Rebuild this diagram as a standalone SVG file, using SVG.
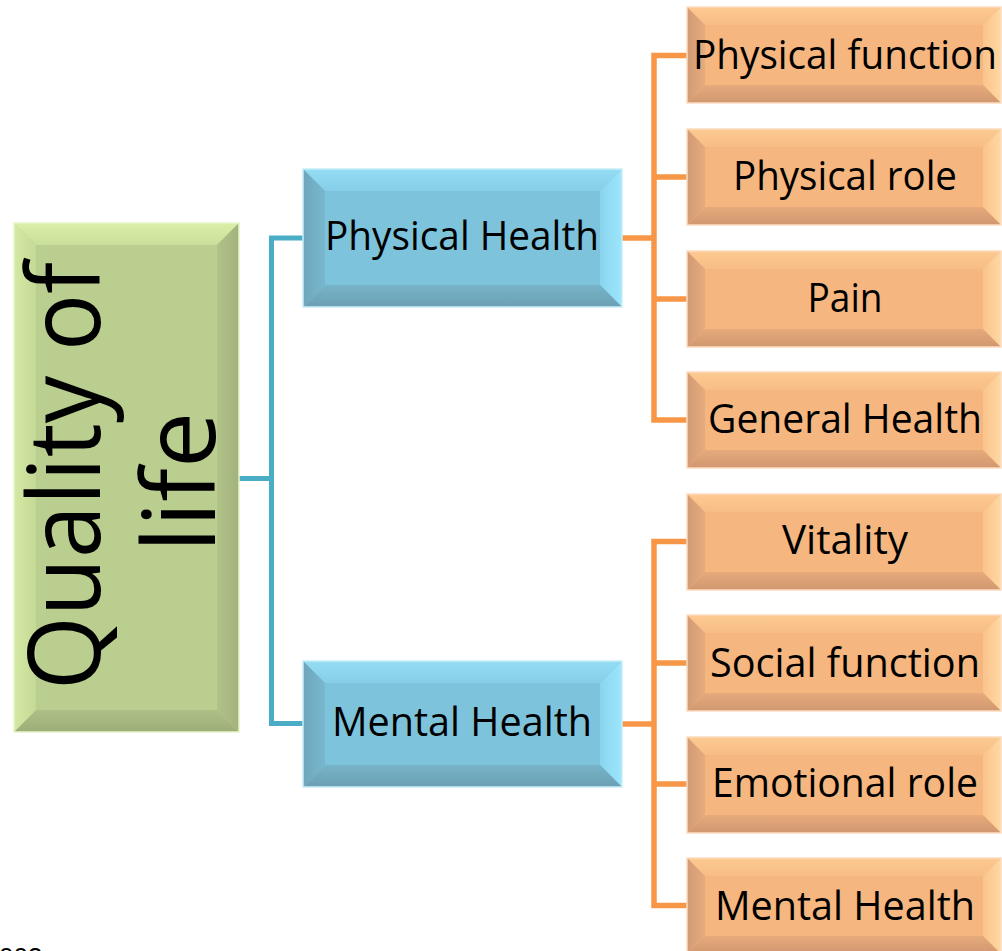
<svg xmlns="http://www.w3.org/2000/svg" xmlns:xlink="http://www.w3.org/1999/xlink" width="1002" height="951" viewBox="0 0 1002 951">
  <style>
    .lbl { font-family: "Open Sans", "Liberation Sans", sans-serif; font-size: 40px; fill: #000; text-anchor: middle; }
    .big { font-family: "Open Sans", "Liberation Sans", sans-serif; font-size: 100px; fill: #000; text-anchor: middle; }
    .note { font-family: "Liberation Sans", sans-serif; font-size: 26px; fill: #000; }
    .link-blue { fill: none; stroke: #4BACC6; stroke-width: 5; }
    .link-orange { fill: none; stroke: #F79646; stroke-width: 5.5; }
    .o-face { fill: #F6B67F; }
    .o-top { fill: url(#oTop); }
    .o-right { fill: url(#oRight); }
    .o-bottom { fill: url(#oBottom); }
    .o-left { fill: url(#oLeft); }
    .o-edge { fill: none; stroke: #FBDCC0; stroke-width: 1.5; }
    .b-face { fill: #7EC3DC; }
    .b-top { fill: url(#bTop); }
    .b-right { fill: url(#bRight); }
    .b-bottom { fill: url(#bBottom); }
    .b-left { fill: url(#bLeft); }
    .b-edge { fill: none; stroke: #C8EEF8; stroke-width: 1.5; }
    .g-face { fill: #BACE8F; }
    .g-top { fill: url(#gTop); }
    .g-left { fill: url(#gLeft); }
    .g-right { fill: url(#gRight); }
    .g-bottom { fill: url(#gBottom); }
    .g-edge { fill: none; stroke: #E6F6C8; stroke-width: 1.5; }
  </style>
  <defs>
    <!-- bevel shading: each strip fades from its outer edge into the face colour -->
    <linearGradient id="oTop" x1="0" y1="0" x2="0" y2="1"><stop offset="0" stop-color="#FCCA92"/><stop offset="1" stop-color="#F8BD86"/></linearGradient>
    <linearGradient id="oRight" x1="1" y1="0" x2="0" y2="0"><stop offset="0" stop-color="#FFD8A2"/><stop offset="1" stop-color="#FAC48C"/></linearGradient>
    <linearGradient id="oBottom" x1="0" y1="1" x2="0" y2="0"><stop offset="0" stop-color="#D09870"/><stop offset="1" stop-color="#E6AA7B"/></linearGradient>
    <linearGradient id="oLeft" x1="0" y1="0" x2="1" y2="0"><stop offset="0" stop-color="#D29B75"/><stop offset="1" stop-color="#E6AB7D"/></linearGradient>

    <linearGradient id="bTop" x1="0" y1="0" x2="0" y2="1"><stop offset="0" stop-color="#94DDF5"/><stop offset="1" stop-color="#86CEE7"/></linearGradient>
    <linearGradient id="bRight" x1="1" y1="0" x2="0" y2="0"><stop offset="0" stop-color="#9DE6FD"/><stop offset="1" stop-color="#8AD5EE"/></linearGradient>
    <linearGradient id="bBottom" x1="0" y1="1" x2="0" y2="0"><stop offset="0" stop-color="#6C9FB3"/><stop offset="1" stop-color="#76B3C9"/></linearGradient>
    <linearGradient id="bLeft" x1="0" y1="0" x2="1" y2="0"><stop offset="0" stop-color="#6EA6BB"/><stop offset="1" stop-color="#78B7CE"/></linearGradient>

    <linearGradient id="gTop" x1="0" y1="0" x2="0" y2="1"><stop offset="0" stop-color="#DAF0A8"/><stop offset="1" stop-color="#C8DE9A"/></linearGradient>
    <linearGradient id="gLeft" x1="0" y1="0" x2="1" y2="0"><stop offset="0" stop-color="#D4EAA3"/><stop offset="1" stop-color="#C3D996"/></linearGradient>
    <linearGradient id="gRight" x1="1" y1="0" x2="0" y2="0"><stop offset="0" stop-color="#A2B27D"/><stop offset="1" stop-color="#B1C388"/></linearGradient>
    <linearGradient id="gBottom" x1="0" y1="1" x2="0" y2="0"><stop offset="0" stop-color="#9DAD79"/><stop offset="1" stop-color="#AEC086"/></linearGradient>

    <!-- bevelled orange tile, 314 x 96 -->
    <g id="orangeTile">
      <rect class="o-face" x="0" y="0" width="314" height="96"/>
      <polygon class="o-top" points="0,0 314,0 296,18 18,18"/>
      <polygon class="o-right" points="314,0 314,96 296,78 296,18"/>
      <polygon class="o-bottom" points="0,96 314,96 296,78 18,78"/>
      <polygon class="o-left" points="0,0 0,96 18,78 18,18"/>
      <rect class="o-edge" x="0" y="0" width="314" height="96"/>
    </g>
  </defs>

  <rect width="1002" height="951" fill="#FFFFFF"/>

  <!-- connectors -->
  <g id="connectors">
    <path class="link-blue" d="M239,478.5 H271.5"/>
    <path class="link-blue" d="M303,238 H271.5 V723.5 H303"/>
    <path class="link-orange" d="M622,238 H654"/>
    <path class="link-orange" d="M622,724 H654"/>
    <path class="link-orange" d="M687,55.5 H654 V420 H687"/>
    <path class="link-orange" d="M654,177 H687"/>
    <path class="link-orange" d="M654,299 H687"/>
    <path class="link-orange" d="M687,541.5 H654 V905.5 H687"/>
    <path class="link-orange" d="M654,663 H687"/>
    <path class="link-orange" d="M654,784 H687"/>
  </g>

  <!-- root -->
  <g id="quality-of-life">
    <rect class="g-face" x="14" y="223" width="225" height="509"/>
    <polygon class="g-top" points="14,223 239,223 217,245 36,245"/>
    <polygon class="g-right" points="239,223 239,732 217,710 217,245"/>
    <polygon class="g-bottom" points="14,732 239,732 217,710 36,710"/>
    <polygon class="g-left" points="14,223 14,732 36,710 36,245"/>
    <rect class="g-edge" x="14" y="223" width="225" height="509"/>
    <text class="big" transform="translate(100,476) rotate(-90)" textLength="428" lengthAdjust="spacingAndGlyphs">Quality of</text>
    <text class="big" transform="translate(215,482) rotate(-90)">life</text>
  </g>

  <!-- second level -->
  <g id="physical-health">
    <rect class="b-face" x="303" y="169" width="319" height="138"/>
    <polygon class="b-top" points="303,169 622,169 600,191 325,191"/>
    <polygon class="b-right" points="622,169 622,307 600,285 600,191"/>
    <polygon class="b-bottom" points="303,307 622,307 600,285 325,285"/>
    <polygon class="b-left" points="303,169 303,307 325,285 325,191"/>
    <rect class="b-edge" x="303" y="169" width="319" height="138"/>
    <text class="lbl" x="462" y="250" textLength="274" lengthAdjust="spacingAndGlyphs">Physical Health</text>
  </g>
  <g id="mental-health">
    <rect class="b-face" x="303" y="661" width="319" height="126"/>
    <polygon class="b-top" points="303,661 622,661 600,683 325,683"/>
    <polygon class="b-right" points="622,661 622,787 600,765 600,683"/>
    <polygon class="b-bottom" points="303,787 622,787 600,765 325,765"/>
    <polygon class="b-left" points="303,661 303,787 325,765 325,683"/>
    <rect class="b-edge" x="303" y="661" width="319" height="126"/>
    <text class="lbl" x="462" y="736" textLength="260" lengthAdjust="spacingAndGlyphs">Mental Health</text>
  </g>

  <!-- leaves -->
  <g id="physical-function">
    <use xlink:href="#orangeTile" x="687" y="7"/>
    <text class="lbl" x="845" y="69" textLength="304" lengthAdjust="spacingAndGlyphs">Physical function</text>
  </g>
  <g id="physical-role">
    <use xlink:href="#orangeTile" x="687" y="129"/>
    <text class="lbl" x="845" y="190" textLength="224" lengthAdjust="spacingAndGlyphs">Physical role</text>
  </g>
  <g id="pain">
    <use xlink:href="#orangeTile" x="687" y="251"/>
    <text class="lbl" x="845" y="312" textLength="75" lengthAdjust="spacingAndGlyphs">Pain</text>
  </g>
  <g id="general-health">
    <use xlink:href="#orangeTile" x="687" y="372"/>
    <text class="lbl" x="845" y="433" textLength="274" lengthAdjust="spacingAndGlyphs">General Health</text>
  </g>
  <g id="vitality">
    <use xlink:href="#orangeTile" x="687" y="494"/>
    <text class="lbl" x="845" y="554" textLength="126" lengthAdjust="spacingAndGlyphs">Vitality</text>
  </g>
  <g id="social-function">
    <use xlink:href="#orangeTile" x="687" y="615"/>
    <text class="lbl" x="845" y="677" textLength="270" lengthAdjust="spacingAndGlyphs">Social function</text>
  </g>
  <g id="emotional-role">
    <use xlink:href="#orangeTile" x="687" y="737"/>
    <text class="lbl" x="845" y="797" textLength="266" lengthAdjust="spacingAndGlyphs">Emotional role</text>
  </g>
  <g id="mental-health-leaf">
    <use xlink:href="#orangeTile" x="687" y="858"/>
    <text class="lbl" x="845" y="920" textLength="260" lengthAdjust="spacingAndGlyphs">Mental Health</text>
  </g>

  <!-- footnote running off the bottom edge -->
  <text class="note" x="-1" y="966">003</text>
</svg>
